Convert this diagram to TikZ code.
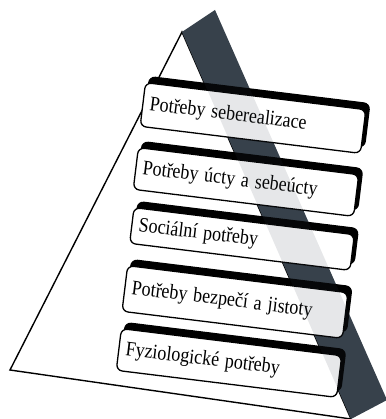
\documentclass[tikz,border=0pt]{standalone}
\usepackage{fontspec}
\setmainfont{Liberation Serif}
\usetikzlibrary{shadows}

\definecolor{facegray}{RGB}{55,65,75}
\newcommand{\tallfont}[1]{\scalebox{1}[1.15]{#1}}

\begin{document}
\begin{tikzpicture}[x=1pt, y=-1pt,
  levelbox/.style={rectangle, rounded corners=6pt, draw=black, line width=1.3pt, fill=white,
    minimum width=222pt, minimum height=#1, text width=208pt, inner xsep=7pt, align=left,
    font=\fontsize{18}{21}\selectfont, rotate=-7,
    copy shadow={shadow xshift=4pt, shadow yshift=6pt, fill=black, draw=black}},
  levelbox/.default=40pt
]
  \useasboundingbox (0,0) rectangle (385,419);

  % pyramid
  \coordinate (apex) at (182,32);
  \coordinate (backtop) at (215,10);
  \coordinate (backbase) at (387,400);
  \coordinate (baseleft) at (10,370);
  \coordinate (baseright) at (351,419);

  \draw[line width=1.4pt, fill=white, line join=miter] (apex) -- (baseleft) -- (baseright) -- cycle;
  \fill[facegray] (apex) -- (backtop) -- (backbase) -- (baseright) -- cycle;

  % levels
  \node[levelbox=44pt] (selfreal) at (253,118) {\tallfont{Potřeby seberealizace}};
  \node[levelbox=42pt] (esteem) at (246,182) {\tallfont{Potřeby úcty a sebeúcty}};
  \node[levelbox=36pt] (social) at (242,239) {\tallfont{Sociální potřeby}};
  \node[levelbox=46pt] (safety) at (235,302) {\tallfont{Potřeby bezpečí a jistoty}};
  \node[levelbox=42pt] (physio) at (229,363) {\tallfont{Fyziologické potřeby}};

  % side face showing through the boxes
  \fill[facegray, fill opacity=0.12] (apex) -- (backtop) -- (backbase) -- (baseright) -- cycle;
\end{tikzpicture}
\end{document}
